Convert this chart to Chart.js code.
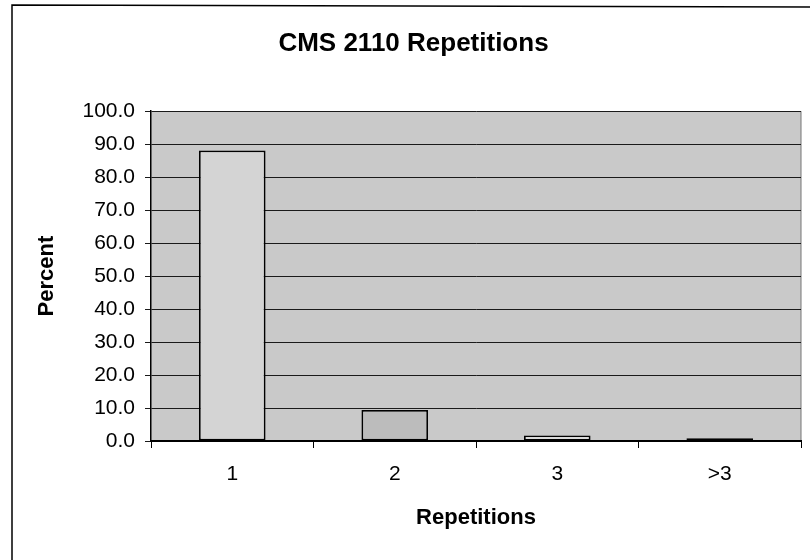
<!DOCTYPE html>
<html>
<head>
<meta charset="utf-8">
<script src="https://cdn.jsdelivr.net/npm/chart.js@4"></script>
<style>
  html, body { margin: 0; padding: 0; background: #ffffff; }
  #wrap { width: 810px; height: 560px; }
</style>
</head>
<body>
<div id="wrap"><canvas id="c" width="810" height="560"></canvas></div>
<script>
const chartTitle = 'CMS 2110 Repetitions';
const categories = ['1', '2', '3', '>3'];
const percentValues = [88.1, 9.4, 1.7, 0.8];
const yTickMin = 0;
const yTickMax = 100;
const yTickStep = 10;
const xAxisTitle = 'Repetitions';
const yAxisTitle = 'Percent';
const barFills = ['#d4d4d4', '#bcbcbc', '#f2f2f2', '#000000'];

const FONT = '"Liberation Sans", Arial, sans-serif';

const framePlugin = {
  id: 'frame',
  beforeDraw(chart) {
    const ctx = chart.ctx;
    const a = chart.chartArea;
    ctx.save();
    ctx.fillStyle = '#ffffff';
    ctx.fillRect(0, 0, chart.width, chart.height);
    // outer chart border (left and top visible)
    ctx.strokeStyle = '#000000';
    ctx.lineWidth = 1.5;
    ctx.beginPath();
    ctx.moveTo(12, chart.height + 2);
    ctx.lineTo(12, 5);
    ctx.lineTo(chart.width + 2, 7);
    ctx.stroke();
    // plot area background
    ctx.fillStyle = '#c9c9c9';
    ctx.fillRect(a.left, a.top, a.right - a.left, a.bottom - a.top);
    ctx.strokeStyle = '#777777';
    ctx.lineWidth = 1;
    ctx.beginPath();
    ctx.moveTo(a.right, a.top);
    ctx.lineTo(a.right, a.bottom);
    ctx.stroke();
    ctx.restore();
  }
};

new Chart(document.getElementById('c'), {
  type: 'bar',
  data: {
    labels: categories,
    datasets: [{
      label: yAxisTitle,
      data: percentValues,
      backgroundColor: barFills,
      borderColor: '#000000',
      borderWidth: 1.8,
      borderSkipped: false,
      barPercentage: 0.41,
      categoryPercentage: 1.0
    }]
  },
  options: {
    responsive: false,
    animation: false,
    devicePixelRatio: 1,
    layout: { padding: { left: 26, right: 9, top: 0, bottom: 0 } },
    plugins: {
      legend: { display: false },
      tooltip: { enabled: false },
      title: {
        display: true,
        text: chartTitle,
        color: '#000000',
        font: { family: FONT, size: 26, weight: 'bold', lineHeight: 1.2 },
        padding: { top: 28, bottom: 52 }
      }
    },
    scales: {
      x: {
        offset: true,
        grid: {
          offset: true,
          drawOnChartArea: false,
          drawTicks: true,
          tickLength: 7,
          color: '#000000',
          lineWidth: 1
        },
        border: { display: true, color: '#000000', width: 2 },
        ticks: {
          color: '#000000',
          padding: 14,
          font: { family: FONT, size: 21 }
        },
        title: {
          display: true,
          text: xAxisTitle,
          color: '#000000',
          font: { family: FONT, size: 22, weight: 'bold', lineHeight: 1.2 },
          padding: { top: 0, bottom: 29 }
        },
        afterFit(scale) { scale.height = 119; }
      },
      y: {
        min: yTickMin,
        max: yTickMax,
        grid: {
          drawOnChartArea: true,
          drawTicks: true,
          tickLength: 6,
          color: '#1a1a1a',
          lineWidth: 1
        },
        border: { display: true, color: '#000000', width: 1.5 },
        ticks: {
          stepSize: yTickStep,
          color: '#000000',
          padding: 10,
          font: { family: FONT, size: 21 },
          callback: (v) => Number(v).toFixed(1)
        },
        title: {
          display: true,
          text: yAxisTitle,
          color: '#000000',
          font: { family: FONT, size: 22, weight: 'bold', lineHeight: 1.2 },
          padding: { top: 8, bottom: 0 }
        },
        afterFit(scale) { scale.width = 125; }
      }
    }
  },
  plugins: [framePlugin]
});
</script>
</body>
</html>
